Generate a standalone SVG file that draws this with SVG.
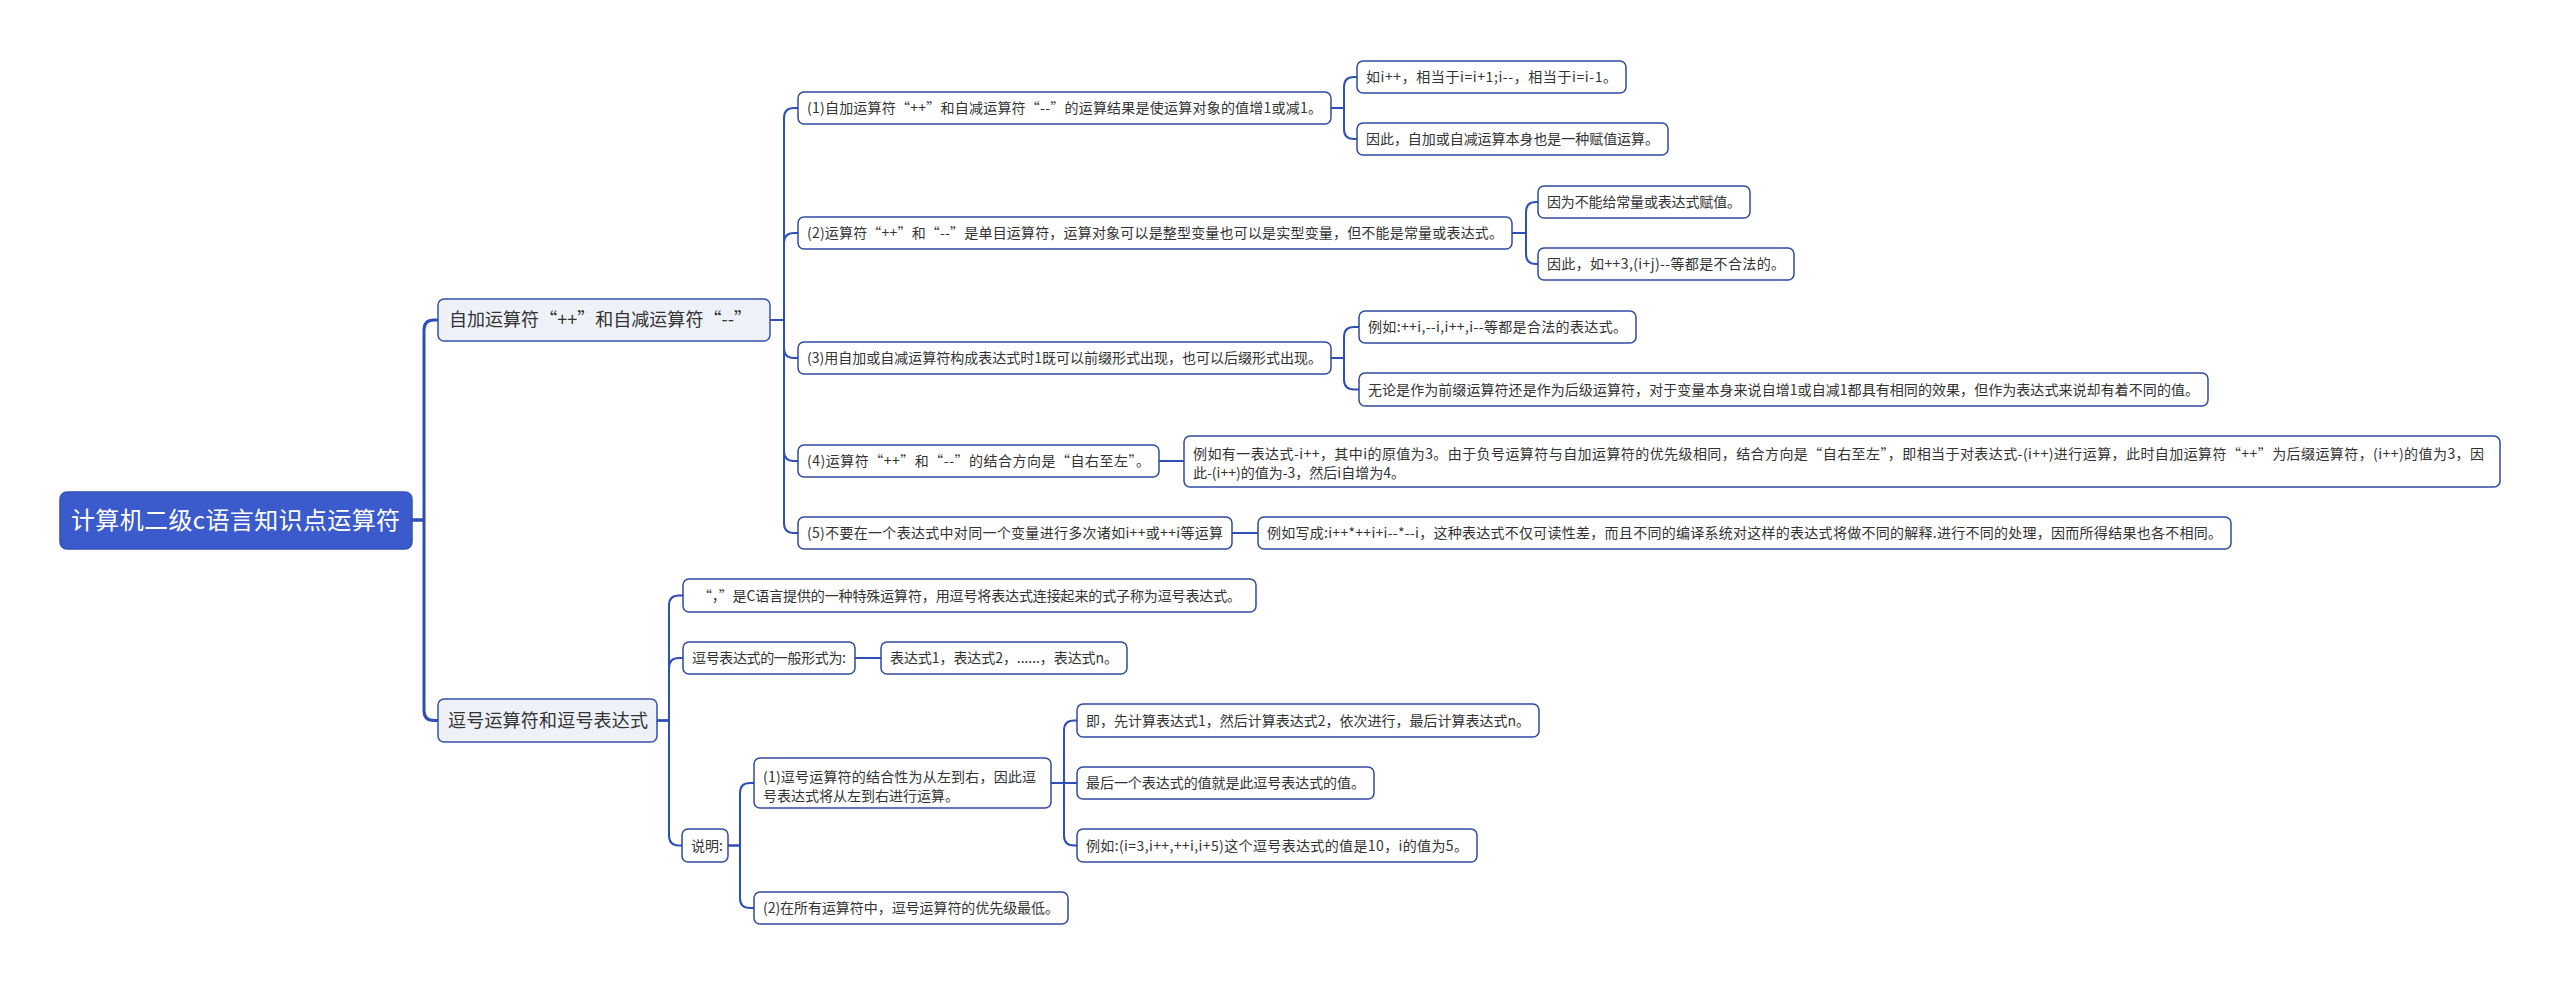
<svg xmlns="http://www.w3.org/2000/svg" width="2560" height="985" viewBox="0 0 2560 985">
<style>
text{font-family:"Noto Sans CJK SC","Noto Sans",sans-serif;fill:#333333;font-size:14px}
.root rect{fill:#3b5bcc;stroke:#3552b8;stroke-width:1.5}
.root text{fill:#ffffff;font-size:24px}
.l1 rect{fill:#eef1f8;stroke:#3552b0;stroke-width:1.5}
.l1 text{font-size:18px}
.n rect{fill:#ffffff;stroke:#2f4aa3;stroke-width:1.5}
.c path{fill:none;stroke:#2f4fb8;stroke-width:2;stroke-linecap:round;stroke-linejoin:round}
.c path.m{stroke-width:3}
</style>
<rect width="2560" height="985" fill="#ffffff"/>
<g class="c" id="connectors">
<path class="m" d="M412,520 H424 V330 Q424,320 434,320 H438"/>
<path class="m" d="M412,520 H424 V710.5 Q424,720.5 434,720.5 H438"/>
<path d="M770,320 H784 V118 Q784,108 794,108 H798"/>
<path d="M770,320 H784 V243 Q784,233 794,233 H798"/>
<path d="M770,320 H784 V348 Q784,358 794,358 H798"/>
<path d="M770,320 H784 V451 Q784,461 794,461 H798"/>
<path d="M770,320 H784 V523 Q784,533 794,533 H798"/>
<path d="M1331,108 H1344 V87 Q1344,77 1354,77 H1357"/>
<path d="M1331,108 H1344 V129 Q1344,139 1354,139 H1357"/>
<path d="M1512,233 H1526 V212 Q1526,202 1536,202 H1538"/>
<path d="M1512,233 H1526 V254 Q1526,264 1536,264 H1538"/>
<path d="M1331,358 H1344 V337 Q1344,327 1354,327 H1359"/>
<path d="M1331,358 H1344 V379.5 Q1344,389.5 1354,389.5 H1359"/>
<path d="M1159,461 H1184"/>
<path d="M1232,533 H1258"/>
<path d="M657,720.5 H669 V605.5 Q669,595.5 679,595.5 H683"/>
<path d="M657,720.5 H669 V668 Q669,658 679,658 H683"/>
<path d="M657,720.5 H669 V835.5 Q669,845.5 679,845.5 H682"/>
<path d="M855,658 H881"/>
<path d="M728,845.5 H740 V793 Q740,783 750,783 H754"/>
<path d="M728,845.5 H740 V898 Q740,908 750,908 H754"/>
<path d="M1051,783 H1064 V730.5 Q1064,720.5 1074,720.5 H1077"/>
<path d="M1051,783 H1077"/>
<path d="M1051,783 H1064 V835.5 Q1064,845.5 1074,845.5 H1077"/>
</g>
<g class="root" id="root"><rect x="60" y="492" width="352" height="57" rx="7"/><text x="71" y="529" textLength="329">计算机二级c语言知识点运算符</text></g>
<g class="l1" id="n-a"><rect x="438" y="299" width="332" height="42" rx="6"/><text x="449" y="326" textLength="303">自加运算符“++”和自减运算符“--”</text></g>
<g class="l1" id="n-b"><rect x="438" y="699" width="219" height="43" rx="6"/><text x="448" y="727" textLength="200">逗号运算符和逗号表达式</text></g>
<g class="n" id="n-a1"><rect x="798" y="92" width="533" height="32" rx="6"/><text x="807" y="113" textLength="515">(1)自加运算符“++”和自减运算符“--”的运算结果是使运算对象的值增1或减1。</text></g>
<g class="n" id="n-a2"><rect x="798" y="217" width="714" height="32" rx="6"/><text x="807" y="238" textLength="696">(2)运算符“++”和“--”是单目运算符，运算对象可以是整型变量也可以是实型变量，但不能是常量或表达式。</text></g>
<g class="n" id="n-a3"><rect x="798" y="342" width="533" height="32" rx="6"/><text x="807" y="363" textLength="515">(3)用自加或自减运算符构成表达式时1既可以前缀形式出现，也可以后缀形式出现。</text></g>
<g class="n" id="n-a4"><rect x="798" y="445" width="361" height="32" rx="6"/><text x="807" y="466" textLength="343">(4)运算符“++”和“--”的结合方向是“自右至左”。</text></g>
<g class="n" id="n-a5"><rect x="798" y="517" width="434" height="32" rx="6"/><text x="807" y="538" textLength="416">(5)不要在一个表达式中对同一个变量进行多次诸如i++或++i等运算</text></g>
<g class="n" id="n-a1a"><rect x="1357" y="61" width="269" height="32" rx="6"/><text x="1366" y="82" textLength="251">如i++，相当于i=i+1;i--，相当于i=i-1。</text></g>
<g class="n" id="n-a1b"><rect x="1357" y="123" width="311" height="32" rx="6"/><text x="1366" y="144" textLength="293">因此，自加或自减运算本身也是一种赋值运算。</text></g>
<g class="n" id="n-a2a"><rect x="1538" y="186" width="212" height="32" rx="6"/><text x="1547" y="207" textLength="194">因为不能给常量或表达式赋值。</text></g>
<g class="n" id="n-a2b"><rect x="1538" y="248" width="256" height="32" rx="6"/><text x="1547" y="269" textLength="238">因此，如++3,(i+j)--等都是不合法的。</text></g>
<g class="n" id="n-a3a"><rect x="1359" y="311" width="277" height="32" rx="6"/><text x="1368" y="332" textLength="259">例如:++i,--i,i++,i--等都是合法的表达式。</text></g>
<g class="n" id="n-a3b"><rect x="1359" y="373" width="849" height="33" rx="6"/><text x="1368" y="394.5" textLength="831">无论是作为前缀运算符还是作为后级运算符，对于变量本身来说自增1或自减1都具有相同的效果，但作为表达式来说却有着不同的值。</text></g>
<g class="n" id="n-a4a"><rect x="1184" y="436" width="1316" height="51" rx="6"/><text x="1193" y="459" textLength="1291">例如有一表达式-i++，其中i的原值为3。由于负号运算符与自加运算符的优先级相同，结合方向是“自右至左”，即相当于对表达式-(i++)进行运算，此时自加运算符“++”为后缀运算符，(i++)的值为3，因</text><text x="1193" y="478">此-(i++)的值为-3，然后i自增为4。</text></g>
<g class="n" id="n-a5a"><rect x="1258" y="517" width="973" height="32" rx="6"/><text x="1267" y="538" textLength="955">例如写成:i++*++i+i--*--i，这种表达式不仅可读性差，而且不同的编译系统对这样的表达式将做不同的解释.进行不同的处理，因而所得结果也各不相同。</text></g>
<g class="n" id="n-b1"><rect x="683" y="579" width="573" height="33" rx="6"/><text x="698" y="600.5" textLength="543">“，”是C语言提供的一种特殊运算符，用逗号将表达式连接起来的式子称为逗号表达式。</text></g>
<g class="n" id="n-b2"><rect x="683" y="642" width="172" height="32" rx="6"/><text x="692" y="663" textLength="154">逗号表达式的一般形式为:</text></g>
<g class="n" id="n-b2a"><rect x="881" y="642" width="246" height="32" rx="6"/><text x="890" y="663" textLength="228">表达式1，表达式2，......，表达式n。</text></g>
<g class="n" id="n-b3"><rect x="682" y="829" width="46" height="33" rx="6"/><text x="691" y="850.5">说明:</text></g>
<g class="n" id="n-b3a"><rect x="754" y="758" width="297" height="50" rx="6"/><text x="763" y="782" textLength="273">(1)逗号运算符的结合性为从左到右，因此逗</text><text x="763" y="801">号表达式将从左到右进行运算。</text></g>
<g class="n" id="n-b3b"><rect x="754" y="892" width="314" height="32" rx="6"/><text x="763" y="913" textLength="296">(2)在所有运算符中，逗号运算符的优先级最低。</text></g>
<g class="n" id="n-b3a1"><rect x="1077" y="704" width="462" height="33" rx="6"/><text x="1086" y="725.5" textLength="444">即，先计算表达式1，然后计算表达式2，依次进行，最后计算表达式n。</text></g>
<g class="n" id="n-b3a2"><rect x="1077" y="767" width="297" height="32" rx="6"/><text x="1086" y="788" textLength="279">最后一个表达式的值就是此逗号表达式的值。</text></g>
<g class="n" id="n-b3a3"><rect x="1077" y="829" width="400" height="33" rx="6"/><text x="1086" y="850.5" textLength="382">例如:(i=3,i++,++i,i+5)这个逗号表达式的值是10，i的值为5。</text></g>
</svg>
